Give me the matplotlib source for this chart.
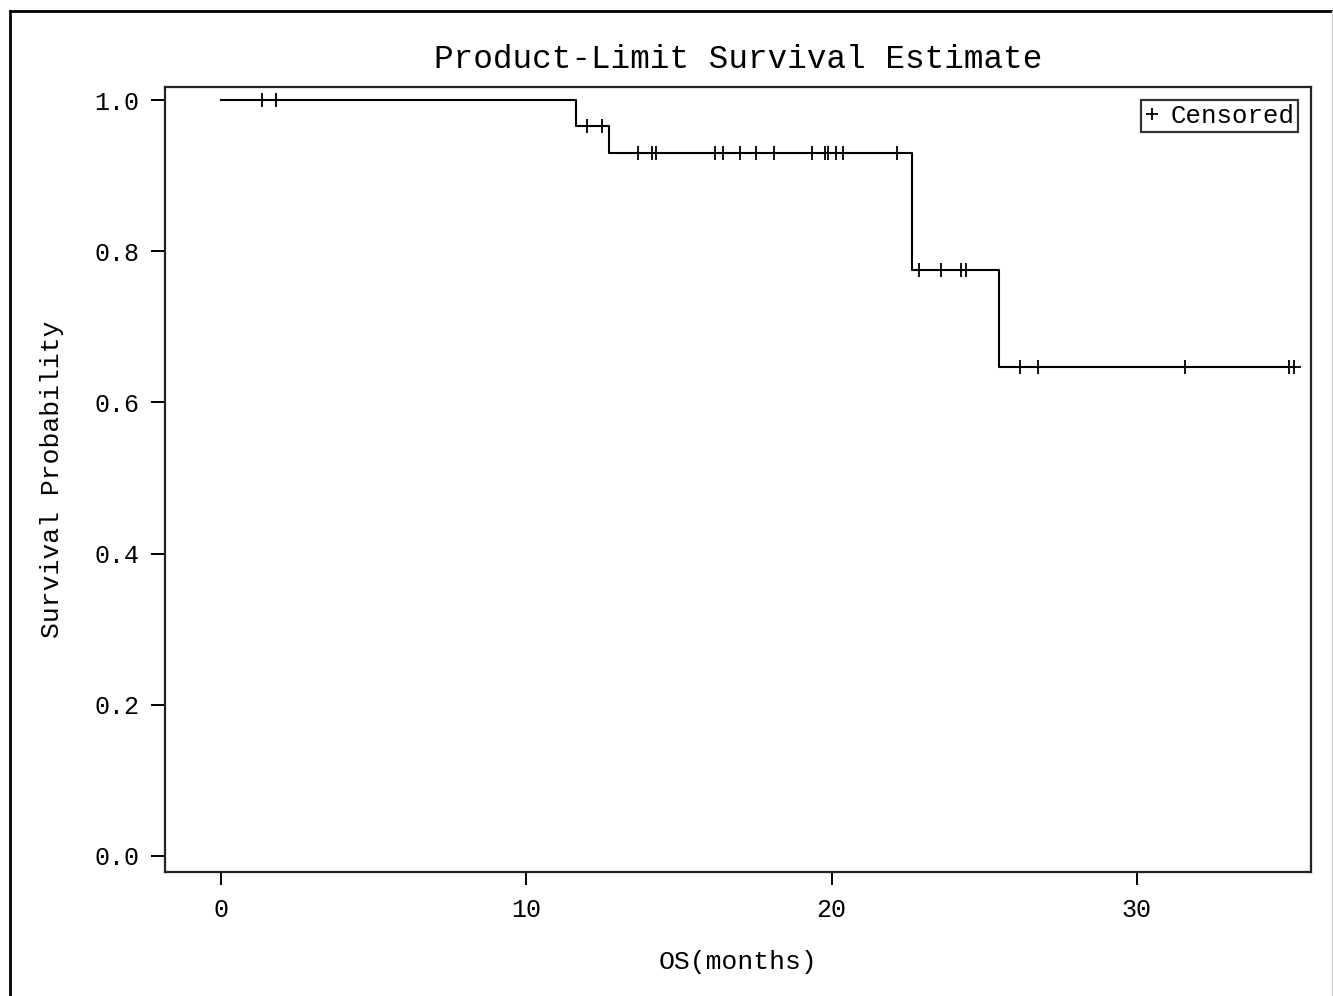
import matplotlib
matplotlib.use("Agg")
import matplotlib.pyplot as plt
from matplotlib.lines import Line2D
import numpy as np

# follow-up time in months and status (1 = death, 0 = censored)
times = [1.33, 1.79, 11.63, 12.00, 12.47, 12.72, 13.65, 14.10, 14.25, 16.18,
         16.43, 17.00, 17.53, 18.11, 19.37, 19.78, 19.87, 20.13, 20.38, 22.15,
         22.65, 22.65, 22.87, 23.60, 24.24, 24.39, 25.48, 26.17, 26.77, 31.57,
         34.99, 35.15]
events = [0, 0, 1, 0, 0, 1, 0, 0, 0, 0,
          0, 0, 0, 0, 0, 0, 0, 0, 0, 0,
          1, 1, 0, 0, 0, 0, 1, 0, 0, 0,
          0, 0]
x_ticks = [0, 10, 20, 30]
y_ticks = [0.0, 0.2, 0.4, 0.6, 0.8, 1.0]
y_ticklabels = ["0.0", "0.2", "0.4", "0.6", "0.8", "1.0"]

# product-limit estimate
t = np.array(times)
e = np.array(events)
uniq = np.unique(t)
surv = 1.0
step_t = [0.0]
step_s = [1.0]
cens_t, cens_s = [], []
for u in uniq:
    at_risk = np.sum(t >= u)
    d = np.sum((t == u) & (e == 1))
    if d > 0:
        surv *= 1 - d / at_risk
    step_t.append(u)
    step_s.append(surv)
    if np.any((t == u) & (e == 0)):
        cens_t.append(u)
        cens_s.append(surv)

font = "Liberation Mono"
plt.rcParams["font.family"] = font

fig = plt.figure(figsize=(13.33, 9.96), dpi=100)
ax = fig.add_axes([164.5 / 1333, 1 - 871.5 / 996, (1311 - 164.5) / 1333, (871.5 - 87.5) / 996])

ax.plot(step_t, step_s, drawstyle="steps-post", color="black", lw=1.5)
ax.plot(cens_t, cens_s, ls="none", marker="+", color="black", ms=10, mew=1.3, label="Censored")

ax.set_xlim(-1.86, 35.71)
ax.set_ylim(-0.021, 1.017)
ax.set_xticks(x_ticks)
ax.set_xticklabels([str(v) for v in x_ticks], fontsize=18)
ax.set_yticks(y_ticks)
ax.set_yticklabels(y_ticklabels, fontsize=18)
ax.tick_params(axis="x", length=9, width=1.4, pad=10)
ax.tick_params(axis="y", length=10, width=1.4, pad=8)
for sp in ax.spines.values():
    sp.set_linewidth(1.6)
    sp.set_color("#222222")

ax.set_xlabel("OS(months)", fontsize=19, labelpad=20)
ax.set_ylabel("Survival Probability", fontsize=19, labelpad=22)
fig.text(738 / 1333, 1 - 60 / 996, "Product-Limit Survival Estimate", fontsize=23.5,
         ha="center", va="center")

leg = ax.legend(loc="upper right", fontsize=18.5, frameon=True, fancybox=False,
                handlelength=0.6, handletextpad=0.4, borderpad=0.15,
                borderaxespad=0.5, markerscale=0.9)
leg.get_frame().set_edgecolor("black")
leg.get_frame().set_linewidth(1.6)

# outer border of the graph area
fig.add_artist(Line2D([10 / 1333, 10 / 1333], [0, 1 - 11 / 996], transform=fig.transFigure, color="black", lw=2))
fig.add_artist(Line2D([10 / 1333, 1332 / 1333], [1 - 11 / 996, 1 - 11 / 996], transform=fig.transFigure, color="black", lw=2))
fig.add_artist(Line2D([1332 / 1333, 1332 / 1333], [0, 1 - 11 / 996], transform=fig.transFigure, color="#cccccc", lw=1))

fig.savefig("out.png", dpi=100)
